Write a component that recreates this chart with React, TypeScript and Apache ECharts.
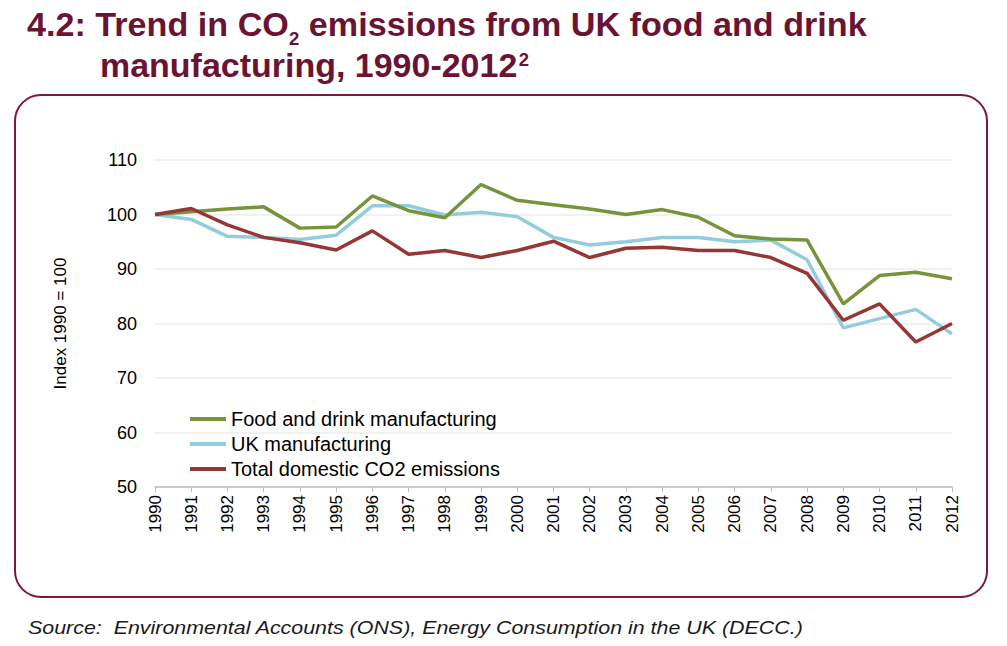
import React, { useEffect, useRef } from "react";
import * as echarts from "echarts";

const years = ["1990","1991","1992","1993","1994","1995","1996","1997","1998","1999","2000","2001","2002","2003","2004","2005","2006","2007","2008","2009","2010","2011","2012"];
const foodDrink = [100, 100.5, 101.0, 101.4, 97.5, 97.7, 103.4, 100.7, 99.4, 105.5, 102.6, 101.8, 101.0, 100.0, 100.9, 99.5, 96.1, 95.5, 95.3, 83.6, 88.8, 89.4, 88.2];
const ukManufacturing = [100, 99.1, 96.0, 95.8, 95.4, 96.2, 101.6, 101.6, 99.9, 100.4, 99.6, 95.8, 94.4, 95.0, 95.8, 95.8, 95.0, 95.3, 91.7, 79.2, 80.9, 82.6, 78.1];
const totalDomestic = [100, 101.1, 98.1, 95.8, 94.8, 93.5, 97.0, 92.7, 93.4, 92.1, 93.4, 95.1, 92.1, 93.8, 94.0, 93.4, 93.4, 92.1, 89.2, 80.6, 83.6, 76.6, 80.0];
const seriesNames = ["Food and drink manufacturing", "UK manufacturing", "Total domestic CO2 emissions"];
const seriesColors = ["#77933c", "#93cddd", "#953735"];

const FONT = "'Liberation Sans', Arial, sans-serif";

function measure(text: string, font: string): number {
  const c = document.createElement("canvas").getContext("2d")!;
  c.font = font;
  return c.measureText(text).width;
}

export default function App() {
  const ref = useRef<HTMLDivElement>(null);
  useEffect(() => {
    const chart = echarts.init(ref.current!, null, { renderer: "svg" });
    const maroon = "#6b1332";
    const data = [foodDrink, ukManufacturing, totalDomestic];

    const mainFs = 33;
    const smallFs = 18;
    const mainFont = `bold ${mainFs}px ${FONT}`;
    const smallFont = `bold ${smallFs}px ${FONT}`;
    const mid = (baseline: number, fs: number) => baseline - 0.35 * fs;

    const t1a = "4.2: Trend in CO";
    const t1b = "2";
    const t1c = " emissions from UK food and drink";
    const w1a = measure(t1a, mainFont);
    const w1b = measure(t1b, smallFont);
    const w1c = measure(t1c, mainFont);
    const s1 = 840 / (w1a + w1b + w1c);
    const t2a = "manufacturing, 1990-2012";
    const t2b = "2";
    const w2a = measure(t2a, mainFont);
    const w2b = measure(t2b, smallFont);
    const s2 = 428 / (w2a + w2b);
    const src = "Source:  Environmental Accounts (ONS), Energy Consumption in the UK (DECC.)";
    const srcFont = `italic 19px ${FONT}`;
    const ws = measure(src, srcFont);
    const s3 = 776 / ws;

    const tstyle = (text: string, fs: number) => ({
      text,
      fontSize: fs,
      fontWeight: "bold",
      fontFamily: FONT,
      fill: maroon,
      align: "left",
      verticalAlign: "middle",
    });

    const b1 = 36;
    const b2 = 77;

    chart.setOption({
      animation: false,
      backgroundColor: "#ffffff",
      textStyle: { fontFamily: FONT },
      graphic: [
        {
          type: "rect",
          shape: { x: 15, y: 95, width: 972, height: 502, r: 26 },
          style: { fill: "none", stroke: "#7b1a36", lineWidth: 2 },
          z: -1,
        },
        {
          type: "group",
          x: 27,
          y: 0,
          scaleX: s1,
          children: [
            { type: "text", x: 0, y: mid(b1, mainFs), style: tstyle(t1a, mainFs) },
            { type: "text", x: w1a, y: mid(b1 + 9, smallFs), style: tstyle(t1b, smallFs) },
            { type: "text", x: w1a + w1b, y: mid(b1, mainFs), style: tstyle(t1c, mainFs) },
          ],
        },
        {
          type: "group",
          x: 100,
          y: 0,
          scaleX: s2,
          children: [
            { type: "text", x: 0, y: mid(b2, mainFs), style: tstyle(t2a, mainFs) },
            { type: "text", x: w2a + 1, y: mid(b2 - 11, smallFs), style: tstyle(t2b, smallFs) },
          ],
        },
        {
          type: "group",
          x: 28,
          y: 0,
          scaleX: s3,
          children: [
            {
              type: "text",
              x: 0,
              y: mid(634, 19),
              style: {
                text: src,
                fontSize: 19,
                fontStyle: "italic",
                fontFamily: FONT,
                fill: "#1a1a1a",
                align: "left",
                verticalAlign: "middle",
              },
            },
          ],
        },
      ],
      legend: {
        orient: "vertical",
        left: 190,
        top: 409,
        padding: 0,
        icon: "rect",
        itemWidth: 36,
        itemHeight: 4,
        itemGap: 5,
        data: seriesNames,
        textStyle: { fontSize: 20, color: "#000", lineHeight: 20, fontFamily: FONT },
      },
      grid: { left: 155, right: 55, top: 160, bottom: 159, containLabel: false },
      xAxis: {
        type: "category",
        data: years,
        boundaryGap: false,
        axisLine: { lineStyle: { color: "#bfbfbf", width: 1.5 } },
        axisTick: { show: true, length: 5, lineStyle: { color: "#bfbfbf" } },
        axisLabel: { rotate: 90, fontSize: 17, color: "#000", margin: 8, interval: 0, fontFamily: FONT },
        splitLine: { show: false },
      },
      yAxis: {
        type: "value",
        min: 50,
        max: 110,
        interval: 10,
        name: "Index 1990 = 100",
        nameLocation: "middle",
        nameRotate: 90,
        nameGap: 86,
        nameTextStyle: { fontSize: 17, color: "#000", fontFamily: FONT },
        axisLine: { show: false },
        axisTick: { show: false },
        axisLabel: { fontSize: 18, color: "#000", margin: 18, fontFamily: FONT },
        splitLine: { lineStyle: { color: "#ececec", width: 1.5 } },
      },
      series: data.map((d, i) => ({
        name: seriesNames[i],
        type: "line",
        data: d,
        symbol: "none",
        lineStyle: { color: seriesColors[i], width: 3.5 },
        itemStyle: { color: seriesColors[i] },
        z: i === 1 ? 2 : 3 + i,
      })),
    });
    return () => chart.dispose();
  }, []);
  return <div ref={ref} style={{ position: "fixed", left: 0, top: 0, width: 1007, height: 646 }} />;
}
